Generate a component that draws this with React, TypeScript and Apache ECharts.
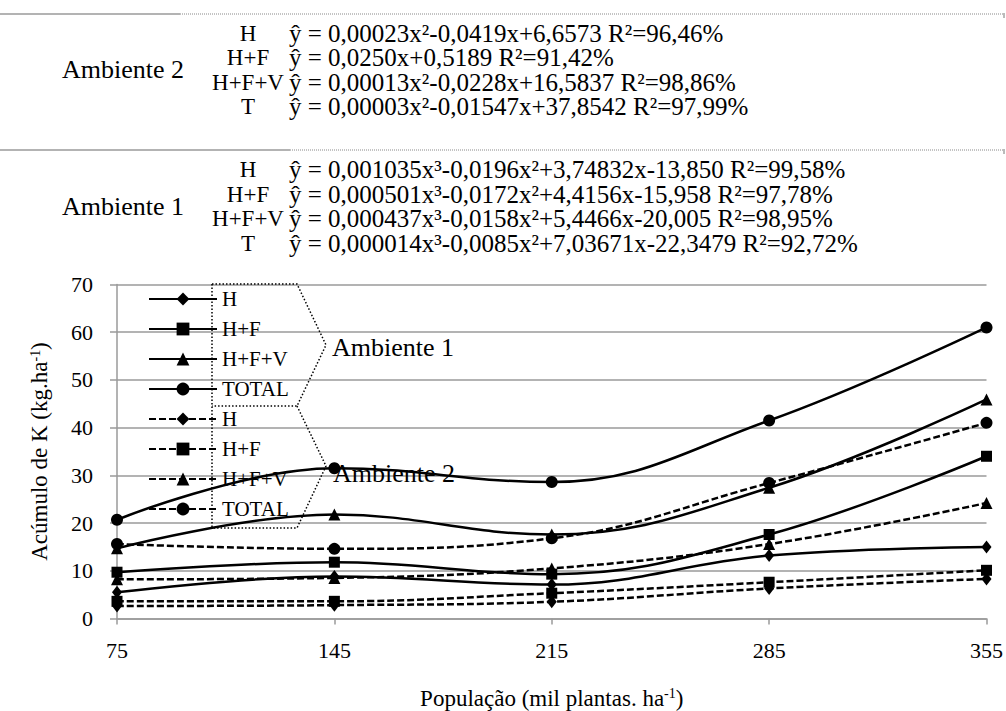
import React, { useEffect, useRef } from 'react';
import * as echarts from 'echarts';

// ---- data ----
const populations = ['75', '145', '215', '285', '355'];
const fractionNames = ['H', 'H+F', 'H+F+V', 'TOTAL'];

// Ambiente 1 (solid lines)
const amb1H = [5.5, 8.8, 7.1, 13.2, 15.0];
const amb1HF = [9.7, 11.8, 9.3, 17.6, 34.0];
const amb1HFV = [14.7, 21.8, 17.6, 27.4, 45.9];
const amb1T = [20.7, 31.5, 28.6, 41.5, 61.0];

// Ambiente 2 (dashed lines)
const amb2H = [2.6, 2.8, 3.5, 6.3, 8.3];
const amb2HF = [3.6, 3.6, 5.3, 7.6, 10.1];
const amb2HFV = [8.2, 8.5, 10.5, 15.6, 24.2];
const amb2T = [15.6, 14.6, 16.8, 28.4, 41.0];

const yMin = 0;
const yMax = 70;
const yStep = 10;

// header table
const eqLabels = ['H', 'H+F', 'H+F+V', 'T'];
const amb2Equations = [
  'ŷ = 0,00023x²-0,0419x+6,6573 R²=96,46%',
  'ŷ = 0,0250x+0,5189 R²=91,42%',
  'ŷ = 0,00013x²-0,0228x+16,5837 R²=98,86%',
  'ŷ = 0,00003x²-0,01547x+37,8542 R²=97,99%',
];
const amb1Equations = [
  'ŷ = 0,001035x³-0,0196x²+3,74832x-13,850 R²=99,58%',
  'ŷ = 0,000501x³-0,0172x²+4,4156x-15,958 R²=97,78%',
  'ŷ = 0,000437x³-0,0158x²+5,4466x-20,005 R²=98,95%',
  'ŷ = 0,000014x³-0,0085x²+7,03671x-22,3479 R²=92,72%',
];

const FONT = 'Liberation Serif';
const GRID_GRAY = '#9a9a9a';

export default function App() {
  const ref = useRef<HTMLDivElement>(null);

  useEffect(() => {
    const chart = echarts.init(ref.current!, null, { renderer: 'svg' });

    const symbols = ['diamond', 'rect', 'triangle', 'circle'];
    const symbolSizes: any[] = [[10, 13], 11, 12, 12];
    const amb1 = [amb1H, amb1HF, amb1HFV, amb1T];
    const amb2 = [amb2H, amb2HF, amb2HFV, amb2T];

    const mk = (name: string, data: number[], i: number, dashed: boolean) => ({
      name,
      type: 'line',
      data,
      smooth: 0.4,
      symbol: symbols[i],
      symbolSize: symbolSizes[i],
      showSymbol: true,
      itemStyle: { color: '#000' },
      lineStyle: { color: '#000', width: 2.5, type: dashed ? [7, 3] : 'solid' },
      emphasis: { disabled: true },
      z: 3,
    });

    const series: any[] = [];
    amb1.forEach((d, i) => series.push(mk('A1 ' + fractionNames[i], d, i, false)));
    amb2.forEach((d, i) => series.push(mk('A2 ' + fractionNames[i], d, i, true)));

    const graphics: any[] = [];
    // header rules
    const hline = (y: number, solidEnd: number) => {
      graphics.push({
        type: 'line',
        shape: { x1: 0, y1: y, x2: solidEnd, y2: y },
        style: { stroke: '#9a9a9a', lineWidth: 1.5 },
      });
      graphics.push({
        type: 'line',
        shape: { x1: solidEnd, y1: y, x2: 1004, y2: y },
        style: { stroke: '#888', lineWidth: 1, lineDash: [1, 1] },
      });
      graphics.push({
        type: 'line',
        shape: { x1: 1004, y1: y - 1, x2: 1004, y2: y + 4 },
        style: { stroke: '#777', lineWidth: 1 },
      });
    };
    hline(14, 180);
    hline(150, 290);

    const block = (title: string, eqs: string[], rows: number[]) => {
      graphics.push({
        type: 'text',
        x: 62,
        y: (rows[0] + rows[3]) / 2,
        style: { text: title, font: `26px "${FONT}"`, fill: '#000', verticalAlign: 'middle', align: 'left' },
      });
      rows.forEach((y, i) => {
        graphics.push({
          type: 'text',
          x: 248,
          y,
          style: { text: eqLabels[i], font: `23px "${FONT}"`, fill: '#000', verticalAlign: 'middle', align: 'center' },
        });
        graphics.push({
          type: 'text',
          x: 289,
          y,
          style: { text: eqs[i], font: `25px "${FONT}"`, fill: '#000', verticalAlign: 'middle', align: 'left' },
        });
      });
    };
    block('Ambiente 2', amb2Equations, [33, 57.5, 82, 106.5]);
    block('Ambiente 1', amb1Equations, [169, 194, 218.5, 243]);

    // legend bracket annotation
    const dotted = { stroke: '#000', lineWidth: 1.5, lineDash: [1.5, 2], fill: null };
    graphics.push({ type: 'polyline', shape: { points: [[212, 284], [212, 528]] }, style: dotted, z: 10 });
    graphics.push({ type: 'polyline', shape: { points: [[212, 284], [297, 284], [326, 345], [297, 406], [212, 406]] }, style: dotted, z: 10 });
    graphics.push({ type: 'polyline', shape: { points: [[297, 406], [326, 466], [297, 528], [212, 528]] }, style: dotted, z: 10 });
    graphics.push({
      type: 'text', x: 332, y: 347, z: 1,
      style: { text: 'Ambiente 1', font: `26px "${FONT}"`, fill: '#000', verticalAlign: 'middle', align: 'left' },
    });
    graphics.push({
      type: 'text', x: 333, y: 473, z: 1,
      style: { text: 'Ambiente 2', font: `26px "${FONT}"`, fill: '#000', verticalAlign: 'middle', align: 'left' },
    });

    const axisNameRich = {
      s: { fontSize: 14, fontFamily: FONT, color: '#000', lineHeight: 10, verticalAlign: 'top' },
    };

    chart.setOption({
      animation: false,
      backgroundColor: '#fff',
      grid: { left: 117, right: 19, top: 284.5, bottom: 92.5, containLabel: false },
      xAxis: {
        type: 'category',
        data: populations,
        boundaryGap: false,
        name: 'População (mil plantas. ha{s|-1})',
        nameLocation: 'middle',
        nameGap: 68,
        nameTextStyle: { fontFamily: FONT, fontSize: 23, color: '#000', rich: axisNameRich },
        axisLine: { show: true, lineStyle: { color: GRID_GRAY, width: 1.5 } },
        axisTick: { show: true, length: 6, lineStyle: { color: GRID_GRAY, width: 1.5 } },
        axisLabel: { fontFamily: FONT, fontSize: 22, color: '#000', margin: 21 },
        splitLine: { show: false },
      },
      yAxis: {
        type: 'value',
        min: yMin,
        max: yMax,
        interval: yStep,
        name: 'Acúmulo de K (kg.ha{s|-1})',
        nameLocation: 'middle',
        nameGap: 66,
        nameRotate: 90,
        nameTextStyle: { fontFamily: FONT, fontSize: 23, color: '#000', rich: axisNameRich },
        axisLine: { show: true, lineStyle: { color: GRID_GRAY, width: 1.5 } },
        axisTick: { show: true, length: 7, inside: false, lineStyle: { color: GRID_GRAY, width: 1.5 } },
        axisLabel: { fontFamily: FONT, fontSize: 22, color: '#000', margin: 24 },
        splitLine: { show: true, lineStyle: { color: GRID_GRAY, width: 1.5 } },
      },
      legend: {
        orient: 'vertical',
        left: 148,
        top: 288.5,
        padding: 0,
        itemWidth: 68,
        itemHeight: 16,
        itemGap: 9,
        selectedMode: false,
        data: series.map((s) => s.name),
        formatter: (n: string) => n.slice(3),
        textStyle: { fontFamily: FONT, fontSize: 21, color: '#000' },
      },
      series,
      graphic: graphics,
    });

    return () => chart.dispose();
  }, []);

  return (
    <div
      ref={ref}
      style={{ position: 'fixed', left: 0, top: 0, width: 1006, height: 711, background: '#fff' }}
    />
  );
}
